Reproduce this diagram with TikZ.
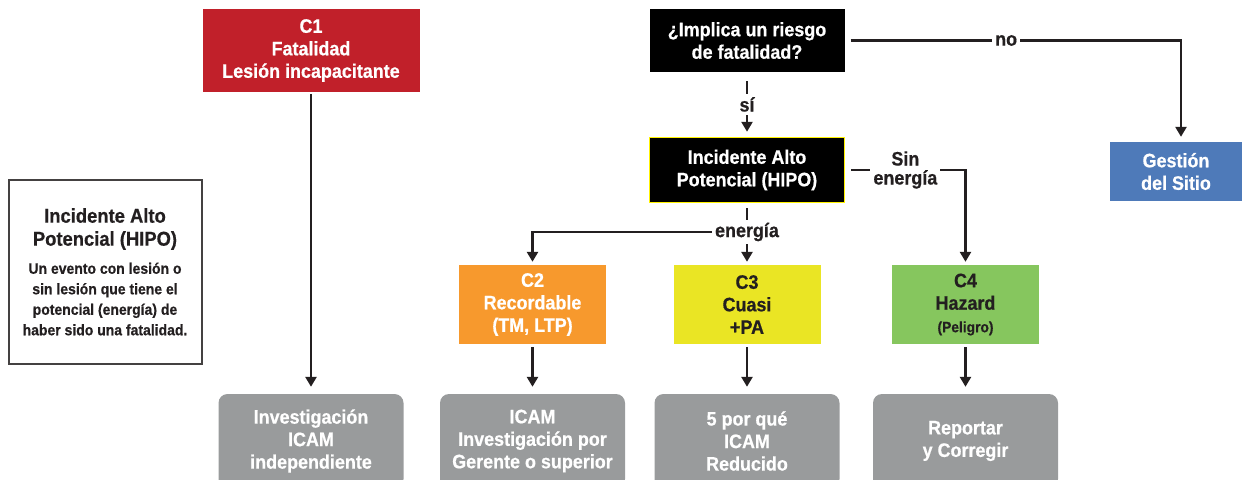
\documentclass[tikz,border=0pt]{standalone}
\usepackage{fontspec}
\setmainfont[FakeStretch=0.92, BoldFeatures={FakeBold=0.6}]{Liberation Sans}
\usepackage{xcolor}
\usepackage{tikz}
\usetikzlibrary{arrows.meta, positioning, calc}

\definecolor{ink}{HTML}{231F20}
\definecolor{cred}{HTML}{C1202A}
\definecolor{corange}{HTML}{F7992D}
\definecolor{cyellow}{HTML}{EAE524}
\definecolor{cgreen}{HTML}{86C65E}
\definecolor{cblue}{HTML}{4E7AB9}
\definecolor{cgray}{HTML}{999B9C}

\begin{document}
\begin{tikzpicture}[
    x=1pt, y=-1pt,
    box/.style={minimum width=147pt, minimum height=79pt, align=center, inner sep=0pt, text=white, font=\bfseries\fontsize{19.5}{22.5}\selectfont},
    result/.style={box, fill=cgray, minimum width=185pt, minimum height=94pt, rounded corners=9pt},
    lbl/.style={fill=white, inner sep=3pt, align=center, text=ink, font=\bfseries\fontsize{19.5}{19}\selectfont},
    line/.style={draw=ink, line width=2.5pt},
    arrow/.style={line, -{Triangle[width=11pt,length=10pt]}}
]
    \useasboundingbox (0,0) rectangle (1244,479);

    % Main components
    \node[box, fill=cred, minimum width=217pt, minimum height=83pt] (c1) at (311,50.5) {C1\\Fatalidad\\Lesión incapacitante};
    \node[box, fill=black, minimum width=195pt, minimum height=63pt] (quest) at (747,40.5) {¿Implica un riesgo\\de fatalidad?};
    \node[box, fill=black, draw=yellow, line width=1.5pt, minimum width=195pt, minimum height=65pt] (hipo) at (747,170) {Incidente Alto\\Potencial (HIPO)};
    \node[box, fill=cblue, minimum width=132pt, minimum height=59pt] (gest) at (1176,171.5) {Gestión\\del Sitio};
    \node[box, fill=corange] (c2) at (532.5,304.5) {C2\\Recordable\\(TM, LTP)};
    \node[box, fill=cyellow, text=ink] (c3) at (747,304.5) {C3\\Cuasi\\+PA};
    \node[box, fill=cgreen, text=ink] (c4) at (965.5,304.5) {C4\\Hazard\\{\fontsize{15}{22.5}\selectfont (Peligro)}};

    % Results (cut off at the bottom)
    \node[result] (g1) at (311,441) {Investigación\\ICAM\\independiente};
    \node[result] (g2) at (532.5,441) {ICAM\\Investigación por\\Gerente o superior};
    \node[result] (g3) at (747,441) {5 por qué\\ICAM\\Reducido};
    \node[result] (g4) at (965.5,441) {Reportar\\y Corregir};

    % Legend
    \node[draw=ink!85, line width=2pt, minimum width=193pt, minimum height=184pt] (legend) at (105,272) {};
    \node[align=center, text=ink, font=\bfseries\fontsize{20}{23}\selectfont] (legtitle) at (105,229) {Incidente Alto\\Potencial (HIPO)};
    \node[align=center, text=ink, font=\bfseries\fontsize{15.2}{20.5}\selectfont] (legbody) at (105,299) {Un evento con lesión o\\sin lesión que tiene el\\potencial (energía) de\\haber sido una fatalidad.};

    % Arrows
    \node[lbl] (energ) at (747,232) {energía};
    \draw[arrow, shorten <=9pt, shorten >=5pt] (quest) -- node[lbl] {sí} (hipo);
    \draw[arrow, shorten <=6pt, shorten >=5pt] (quest.east) -| node[lbl, pos=0.24] {no} ([xshift=5pt]gest.north);
    \draw[arrow, shorten <=6pt, shorten >=3pt] (hipo.east) -| node[lbl, pos=0.25] {Sin\\energía} (c4.north);
    \draw[line, shorten <=5pt] (hipo) -- (energ);
    \draw[arrow, shorten >=3pt] (energ) -- (c3);
    \draw[arrow, shorten >=3pt] (energ) -| (c2);
    \draw[arrow, shorten <=2pt, shorten >=7pt] (c1) -- (g1);
    \draw[arrow, shorten <=3pt, shorten >=7pt] (c2) -- (g2);
    \draw[arrow, shorten <=3pt, shorten >=7pt] (c3) -- (g3);
    \draw[arrow, shorten <=3pt, shorten >=7pt] (c4) -- (g4);
\end{tikzpicture}
\end{document}
